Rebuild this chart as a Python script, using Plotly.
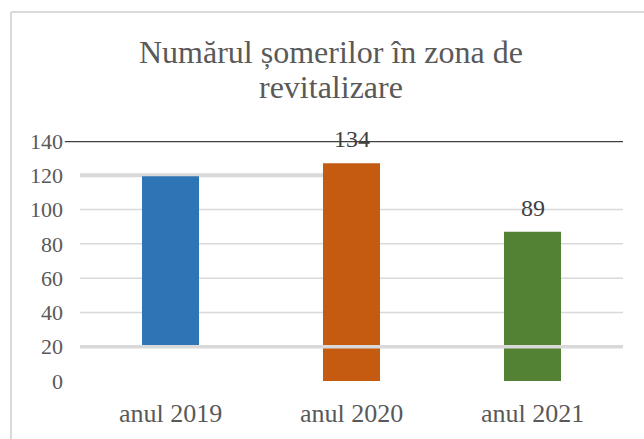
import plotly.graph_objects as go

categories = ["anul 2019", "anul 2020", "anul 2021"]
bar_tops = [119.5, 127, 87]
bar_bases = [20, 0, 0]
data_labels = ["", "134", "89"]
colors = ["#2E75B6", "#C55A11", "#548235"]
tick_vals = [0, 20, 40, 60, 80, 100, 120, 140]
title_lines = ["Numărul șomerilor în zona de", "revitalizare"]

heights = [t - b for t, b in zip(bar_tops, bar_bases)]
FONT = "Liberation Serif, Times New Roman, serif"
TXT = "#595959"
GRID = "#D9D9D9"

fig = go.Figure(go.Bar(
    x=categories, y=heights, base=bar_bases,
    marker=dict(color=colors, line=dict(width=0)),
    cliponaxis=False, hoverinfo="skip",
))

shapes = []
for v in tick_vals:
    if v in (40, 60, 80, 100):
        shapes.append(dict(type="line", xref="paper", yref="y", x0=0, x1=1, y0=v, y1=v,
                           line=dict(color=GRID, width=1.5), layer="below"))
shapes.append(dict(type="line", xref="paper", yref="y", x0=0, x1=0.5, y0=tick_vals[6], y1=tick_vals[6],
                   line=dict(color=GRID, width=4), layer="below"))
shapes.append(dict(type="line", xref="paper", yref="y", x0=0, x1=1, y0=tick_vals[1], y1=tick_vals[1],
                   line=dict(color=GRID, width=3.5), layer="above"))
shapes.append(dict(type="line", xref="paper", yref="y", x0=-0.028, x1=1, y0=tick_vals[7], y1=tick_vals[7],
                   line=dict(color="#404040", width=2.5), layer="above"))
shapes.append(dict(type="line", xref="paper", yref="paper", x0=-0.127, x1=1.2, y0=1.5375, y1=1.5375,
                   line=dict(color=GRID, width=2)))
shapes.append(dict(type="line", xref="paper", yref="paper", x0=-0.127, x1=-0.127, y0=-0.4, y1=1.5375,
                   line=dict(color=GRID, width=2)))

annotations = [
    dict(text=title_lines[0], xref="paper", yref="paper", x=(331 - 80) / 543, y=1.371,
         xanchor="center", yanchor="middle", showarrow=False,
         font=dict(family=FONT, size=32, color=TXT)),
    dict(text=title_lines[1], xref="paper", yref="paper", x=(331 - 80) / 543, y=1.225,
         xanchor="center", yanchor="middle", showarrow=False,
         font=dict(family=FONT, size=32, color=TXT)),
]
for c, top, lab in zip(categories, bar_tops, data_labels):
    if lab:
        annotations.append(dict(text=lab, x=c, y=top, xref="x", yref="y",
                                xanchor="center", yanchor="middle", yshift=24,
                                showarrow=False,
                                font=dict(family=FONT, size=24, color="#404040")))

fig.update_layout(
    width=644, height=439,
    margin=dict(l=80, r=21, t=141, b=58),
    paper_bgcolor="white", plot_bgcolor="white",
    showlegend=False, bargap=0.685,
    shapes=shapes, annotations=annotations,
    xaxis=dict(showgrid=False, showline=False, zeroline=False, ticks="",
               tickfont=dict(family=FONT, size=26, color=TXT), ticklabelstandoff=14),
    yaxis=dict(range=[0, 140], tickvals=tick_vals, showgrid=False, showline=False,
               zeroline=False, ticks="", ticklabelstandoff=16,
               tickfont=dict(family=FONT, size=22, color=TXT)),
)

fig.write_html("out.html", config={"displayModeBar": False},
               post_script="document.body.style.margin='0';document.body.style.overflow='hidden';")
